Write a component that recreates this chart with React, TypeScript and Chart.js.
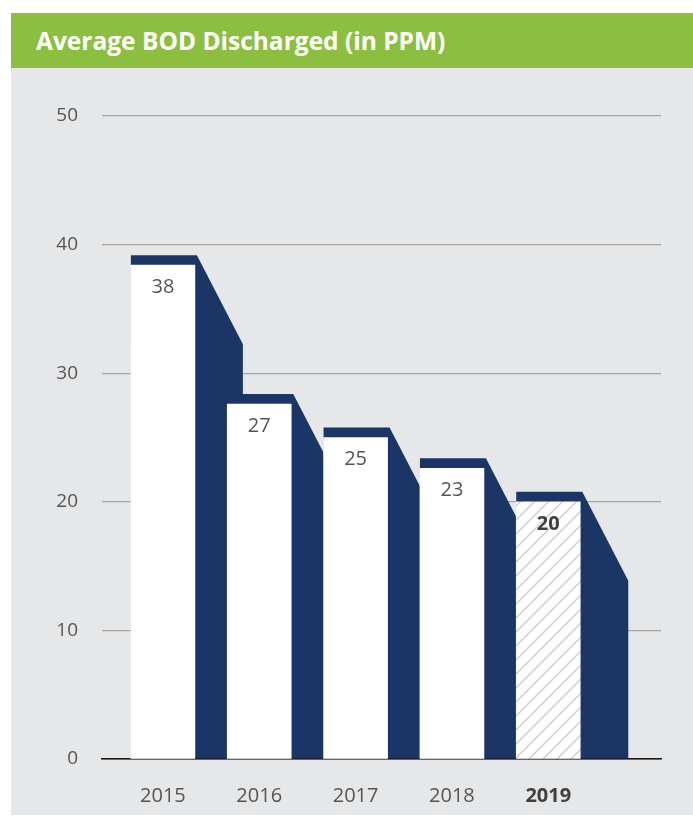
import React, { useEffect, useRef } from "react";
import { Chart, registerables } from "chart.js";

Chart.register(...registerables);

const categories = ["2015", "2016", "2017", "2018", "2019"];
const values = [38.4, 27.6, 25.0, 22.6, 20.0];
const valueLabels = ["38", "27", "25", "23", "20"];
const yMin = 0;
const yMax = 50;
const yStep = 10;
const highlightIndex = 4;

const NAVY = "#1b3566";
const FONT = "'Open Sans', 'Noto Sans', sans-serif";

function makeHatch(): CanvasPattern | string {
  const c = document.createElement("canvas");
  const s = 14;
  c.width = s;
  c.height = s;
  const g = c.getContext("2d");
  if (!g) return "#ffffff";
  g.fillStyle = "#ffffff";
  g.fillRect(0, 0, s, s);
  g.strokeStyle = "#cdcdcd";
  g.lineWidth = 1.4;
  g.beginPath();
  g.moveTo(-2, s + 2);
  g.lineTo(s + 2, -2);
  g.moveTo(-s / 2 - 2, s / 2 + 2);
  g.lineTo(s / 2 + 2, -s / 2 - 2);
  g.moveTo(s / 2 - 2, s * 1.5 + 2);
  g.lineTo(s * 1.5 + 2, s / 2 - 2);
  g.stroke();
  const p = g.createPattern(c, "repeat");
  return p || "#ffffff";
}

const extrusionPlugin = {
  id: "extrusion",
  beforeDatasetsDraw(chart: any) {
    const meta = chart.getDatasetMeta(0);
    const ctx = chart.ctx;
    ctx.save();
    ctx.fillStyle = NAVY;
    meta.data.forEach((bar: any) => {
      const { x, y, base, width } = bar.getProps(["x", "y", "base", "width"], true);
      const left = x - width / 2;
      const right = x + width / 2;
      const top = y - 10;
      ctx.beginPath();
      ctx.moveTo(left, top);
      ctx.lineTo(right + 2, top);
      ctx.lineTo(right + 48, top + 89);
      ctx.lineTo(right + 48, base);
      ctx.lineTo(left, base);
      ctx.closePath();
      ctx.fill();
    });
    ctx.restore();
  },
  afterDatasetsDraw(chart: any) {
    const meta = chart.getDatasetMeta(0);
    const ctx = chart.ctx;
    ctx.save();
    ctx.textAlign = "center";
    ctx.textBaseline = "middle";
    meta.data.forEach((bar: any, i: number) => {
      const { x, y } = bar.getProps(["x", "y"], true);
      const bold = i === highlightIndex;
      ctx.font = `${bold ? "bold " : ""}20px ${FONT}`;
      ctx.fillStyle = bold ? "#404040" : "#555555";
      ctx.fillText(valueLabels[i], x, y + 22);
    });
    ctx.restore();
  },
};

export default function App() {
  const canvasRef = useRef<HTMLCanvasElement | null>(null);

  useEffect(() => {
    const canvas = canvasRef.current;
    if (!canvas) return;
    const hatch = makeHatch();
    const chart = new Chart(canvas, {
      type: "bar",
      data: {
        datasets: [
          {
            data: values.map((v, i) => ({ x: i, y: v })),
            backgroundColor: values.map((_, i) => (i === highlightIndex ? hatch : "#ffffff")),
            borderWidth: 0,
            barThickness: 64,
          } as any,
        ],
      },
      options: {
        responsive: false,
        animation: false,
        events: [],
        layout: { padding: { left: 0, right: 32, top: 116, bottom: 0 } },
        plugins: {
          legend: { display: false },
          tooltip: { enabled: false },
          title: { display: false },
        },
        scales: {
          x: {
            type: "linear",
            offset: false,
            min: -0.632,
            max: 5.17,
            afterFit(scale: any) {
              scale.height = 61;
            },
            afterBuildTicks(scale: any) {
              scale.ticks = categories.map((_, i) => ({ value: i }));
            },
            grid: { display: false, drawTicks: false, offset: false },
            border: { display: true, color: "#1a1a1a", width: 1.5 },
            ticks: {
              padding: 25,
              maxRotation: 0,
              autoSkip: false,
              callback: (v: any) => categories[Math.round(Number(v))] ?? "",
              color: (c: any) => (c.index === highlightIndex ? "#404040" : "#555555"),
              font: (c: any) => ({
                family: FONT,
                size: 20,
                weight: c.index === highlightIndex ? "bold" : "normal",
              }),
            },
          },
          y: {
            type: "linear",
            min: yMin,
            max: yMax,
            afterFit(scale: any) {
              scale.width = 102;
            },
            grid: {
              drawTicks: false,
              color: (c: any) => (c.tick && c.tick.value === 0 ? "#1a1a1a" : "#a3a3a3"),
              lineWidth: 1.3,
            },
            border: { display: false },
            ticks: {
              stepSize: yStep,
              padding: 24,
              color: "#555555",
              font: { family: FONT, size: 19 },
            },
          },
        },
      },
      plugins: [extrusionPlugin],
    });
    return () => chart.destroy();
  }, []);

  return (
    <div style={{ position: "absolute", left: 0, top: 0, width: 693, height: 820, background: "#ffffff", overflow: "hidden" }}>
      <div style={{ position: "absolute", left: 11, top: 13, width: 682, height: 802, background: "#e6e7e9" }} />
      <div
        style={{
          position: "absolute",
          left: 11,
          top: 13,
          width: 682,
          height: 55,
          background: "#8cbf3f",
          color: "#ffffff",
          fontFamily: FONT,
          fontWeight: 700,
          fontSize: 24.5,
          lineHeight: "55px",
          paddingLeft: 25,
          boxSizing: "border-box",
          whiteSpace: "nowrap",
        }}
      >
        Average BOD Discharged (in PPM)
      </div>
      <canvas ref={canvasRef} width={693} height={820} style={{ position: "absolute", left: 0, top: 0, display: "block" }} />
    </div>
  );
}
